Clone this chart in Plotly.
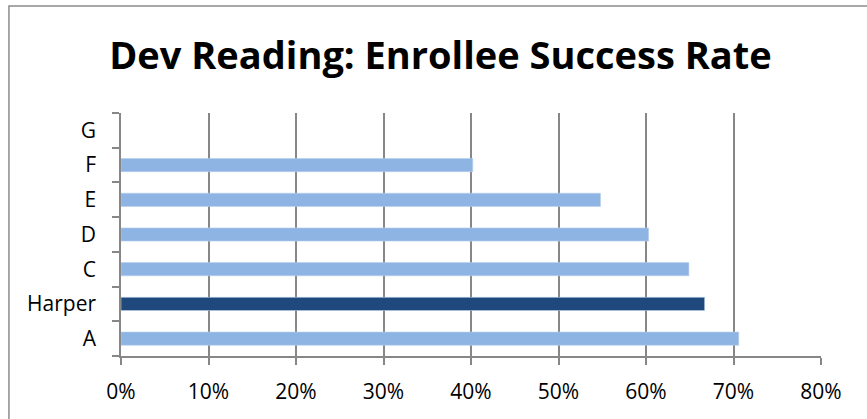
import plotly.graph_objects as go

categories = ["A", "Harper", "C", "D", "E", "F", "G"]
values = [0.706, 0.667, 0.649, 0.603, 0.548, 0.402, None]
highlight = "Harper"
tick_vals = [0, 0.1, 0.2, 0.3, 0.4, 0.5, 0.6, 0.7, 0.8]
tick_text = ["0%", "10%", "20%", "30%", "40%", "50%", "60%", "70%", "80%"]

colors = ["#1F497D" if c == highlight else "#8EB4E3" for c in categories]

fig = go.Figure(go.Bar(
    y=categories, x=values, orientation="h",
    marker=dict(color=colors, line=dict(color="#B9CFEA", width=0.6)),
    width=0.38,
))

grid = "#878787"
font = "Open Sans, Liberation Sans, sans-serif"
fig.update_layout(
    width=867, height=419,
    margin=dict(l=121, r=46, t=113, b=63),
    paper_bgcolor="white", plot_bgcolor="white",
    showlegend=False,
    title=dict(text="<b>Dev Reading: Enrollee Success Rate</b>",
               font=dict(family=font, size=38, color="black"),
               x=0.508, xanchor="center", y=0.866, yanchor="middle"),
    xaxis=dict(range=[0, 0.8], tickvals=tick_vals, ticktext=tick_text,
               showgrid=True, gridcolor=grid, gridwidth=1.5,
               showline=True, linecolor=grid, linewidth=1.5,
               ticks="outside", ticklen=7, tickcolor=grid, tickwidth=1.5,
               tickfont=dict(family=font, size=21, color="black"),
               ticklabelstandoff=9,
               zeroline=False, fixedrange=True),
    yaxis=dict(type="category", categoryorder="array", categoryarray=categories,
               tickson="boundaries", ticks="outside", ticklen=7,
               tickcolor=grid, tickwidth=1.5,
               showline=True, linecolor=grid, linewidth=1.5,
               showgrid=False, fixedrange=True,
               tickfont=dict(family=font, size=21, color="black"),
               ticklabelstandoff=19),
    shapes=[dict(type="rect", xref="paper", yref="paper",
                 x0=(9 - 121) / 699.7, x1=1.5,
                 y0=-1.0, y1=(356 - 6) / 243,
                 line=dict(color="#8C8C8C", width=1.5), fillcolor="rgba(0,0,0,0)",
                 layer="below")],
)

fig.write_html("out.html", config={"displayModeBar": False},
               post_script="document.body.style.margin='0';")
